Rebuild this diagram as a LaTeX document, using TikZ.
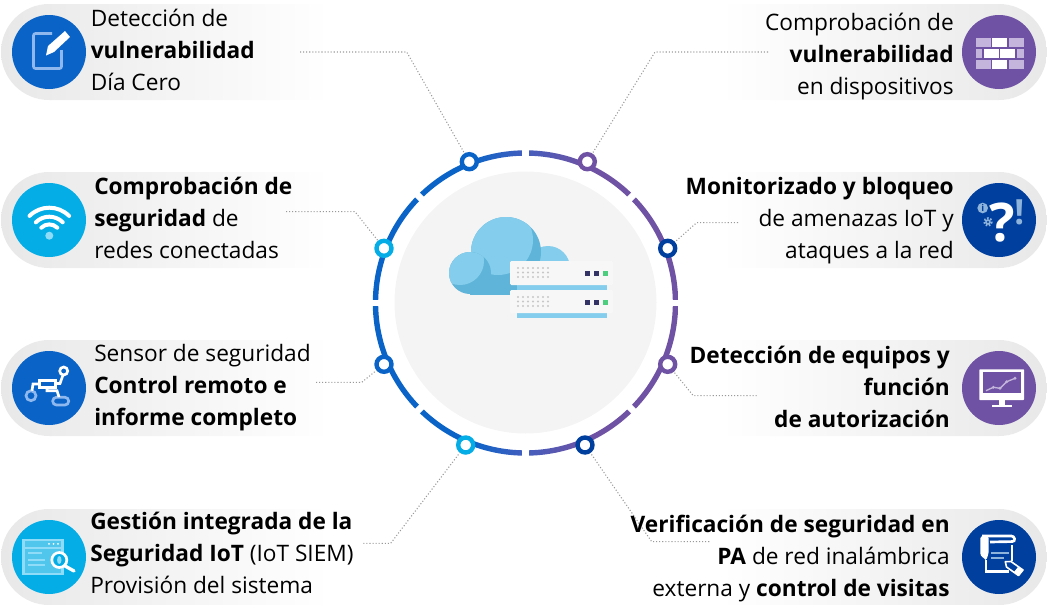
\documentclass[tikz,border=0pt]{standalone}
\usepackage{fontspec}
\setmainfont{Open Sans}
\definecolor{ringblue}{HTML}{0A64C8}
\definecolor{ringmid}{HTML}{445EBE}
\definecolor{ringpurple}{HTML}{6F52A3}
\definecolor{iconcyan}{HTML}{05ADE6}
\definecolor{iconnavy}{HTML}{003F9E}
\definecolor{pillgrey}{HTML}{E8E8E9}
\definecolor{pillmid}{HTML}{F6F6F7}
\definecolor{discgrey}{HTML}{F4F4F5}
\definecolor{cloudlight}{HTML}{85CDEC}
\definecolor{clouddark}{HTML}{5FB4D9}
\definecolor{lightblue}{HTML}{8FB8EE}
\definecolor{lightcyan}{HTML}{8EDCF8}
\definecolor{lightpurple}{HTML}{C4B5DC}
\definecolor{lightnavy}{HTML}{8FB4DC}
\pgfdeclarehorizontalshading{ringshade}{100bp}{color(0bp)=(ringblue); color(41bp)=(ringblue); color(50bp)=(ringmid); color(60bp)=(ringpurple); color(100bp)=(ringpurple)}
\tikzset{
  ringnode/.style={circle,fill=white,line width=3.3pt,minimum size=11.25pt,inner sep=0pt},
  iconbg/.style={circle,minimum size=55.5pt,inner sep=0pt},
  leader/.style={draw=black!40,line width=.8pt,dash pattern=on .8pt off 1.5pt},
  lefttext/.style={anchor=west,align=left,inner sep=0pt,text=black,font=\fontsize{17}{24}\selectfont},
  righttext/.style={anchor=east,align=right,inner sep=0pt,text=black,font=\fontsize{17}{24}\selectfont},
  lightline/.style={line width=2pt}
}
\begin{document}
\begin{tikzpicture}[x=.75pt,y=-.75pt]
\useasboundingbox (0,0) rectangle (1047,604);

\foreach \y in {52,220,388,557} {
  \shade[left color=pillgrey,middle color=pillmid,right color=white] (330,\y-48) -- (49,\y-48) arc[start angle=270,end angle=90,radius=48] -- (330,\y+48) -- cycle;
  \shade[left color=white,middle color=pillmid,right color=pillgrey] (720,\y-48) -- (999,\y-48) arc[start angle=-90,end angle=90,radius=48] -- (720,\y+48) -- cycle;
}

\fill[discgrey] (525.5,302.5) circle (131);
\shade[shading=ringshade,even odd rule] (525.5,303) circle (152.7) (525.5,303) circle (147.3);
\foreach \a in {0,45,...,315}
  \draw[white,line width=5pt] ([shift={(525.5,303)}]\a:145) -- ([shift={(525.5,303)}]\a:155);

\fill[cloudlight] (548,268) circle (22);
\fill[clouddark] (506,252) circle (35);
\begin{scope}
  \clip (506,252) circle (35);
  \fill[cloudlight] (498,240) circle (35);
\end{scope}
\fill[clouddark] (470,273) circle (21);
\fill[clouddark,rounded corners=0pt] (470,275) rectangle (520,295);
\begin{scope}
  \clip (470,273) circle (21);
  \fill[cloudlight] (460,261) circle (24);
\end{scope}
\fill[cloudlight] (517,283) rectangle (607,289.5);
\fill[cloudlight] (517,313) rectangle (607,318);
\fill[black!3!white,rounded corners=1pt] (510,261) rectangle (613,285);
\fill[black!3!white,rounded corners=1pt] (510,290) rectangle (613,313);
\foreach \y in {268,272.5,277,297,301.5,306} {
  \foreach \x in {518,523,...,548}
    \fill[black!22] (\x,\y) circle (1.2);
}
\foreach \y in {273,302} {
  \fill[black!75!blue!80] (584.5,\y-2.5) rectangle (589.5,\y+2.5);
  \fill[black!75!blue!80] (593.5,\y-2.5) rectangle (598.5,\y+2.5);
  \fill[green!45!teal!70] (602.5,\y-2.5) rectangle (607.5,\y+2.5);
}

\node[ringnode,draw=ringblue] (nodeA) at (469.3,161.7) {};
\node[ringnode,draw=ringpurple] (nodeB) at (587.3,161.7) {};
\node[ringnode,draw=iconcyan] (nodeC) at (384,248.3) {};
\node[ringnode,draw=iconnavy] (nodeD) at (667.7,248.3) {};
\node[ringnode,draw=ringblue] (nodeE) at (384,364.3) {};
\node[ringnode,draw=ringpurple] (nodeF) at (667.7,364.3) {};
\node[ringnode,draw=iconcyan] (nodeG) at (465.7,445) {};
\node[ringnode,draw=iconnavy] (nodeH) at (585,445) {};

\coordinate (startA) at (300,52);
\coordinate (bendA) at (406.7,52);
\coordinate (startB) at (768,52);
\coordinate (bendB) at (655,52);
\coordinate (startC) at (286,211.7);
\coordinate (bendC) at (355,211.7);
\coordinate (startD) at (738,222.7);
\coordinate (bendD) at (696.7,222.7);
\coordinate (startE) at (316,382.3);
\coordinate (bendE) at (361.7,382.3);
\coordinate (startF) at (756.7,395.7);
\coordinate (bendF) at (693.3,395.7);
\coordinate (startG) at (363.3,543.3);
\coordinate (bendG) at (390.7,543.3);
\coordinate (startH) at (709.3,541.7);
\coordinate (bendH) at (651.7,541.7);
\draw[leader] (startA) -- (bendA) -- (nodeA);
\draw[leader] (startB) -- (bendB) -- (nodeB);
\draw[leader] (startC) -- (bendC) -- (nodeC);
\draw[leader] (startD) -- (bendD) -- (nodeD);
\draw[leader] (startE) -- (bendE) -- (nodeE);
\draw[leader] (startF) -- (bendF) -- (nodeF);
\draw[leader] (startG) -- (bendG) -- (nodeG);
\draw[leader] (startH) -- (bendH) -- (nodeH);

\node[iconbg,fill=ringblue] (iconA) at (49,52) {};
\node[iconbg,fill=ringpurple] (iconB) at (999,52) {};
\node[iconbg,fill=iconcyan] (iconC) at (49,220) {};
\node[iconbg,fill=iconnavy] (iconD) at (999,220) {};
\node[iconbg,fill=ringblue] (iconE) at (49,388) {};
\node[iconbg,fill=ringpurple] (iconF) at (999,388) {};
\node[iconbg,fill=iconcyan] (iconG) at (49,557) {};
\node[iconbg,fill=iconnavy] (iconH) at (999,557) {};

\draw[lightblue,lightline,rounded corners=1.5pt] (52,33.5) -- (33.5,33.5) -- (33.5,68.5) -- (61.5,68.5) -- (61.5,50);
\fill[white] (46,55.5) -- (48,46) -- (65,31) -- (70,37) -- (54,52) -- cycle;

\foreach \r in {28,19,11.3}
  \draw[white,line width=3pt,line cap=round] ([shift={(49.3,235.7)}]225:\r) arc[start angle=225,end angle=315,radius=\r];
\fill[lightcyan] (49.3,235.7) circle (4);

\draw[lightblue,lightline] (31,395.7) circle (5);
\draw[lightblue,lightline,rounded corners=2.8pt] (52.7,397.3) rectangle (68.7,405);
\draw[white,lightline] (63.7,371) circle (4);
\draw[white,lightline] (39.3,380.7) rectangle (55.3,387.3);
\draw[white,lightline] (55.3,383.5) -- (60,383.5) -- (63,375);
\draw[white,lightline] (39.3,384) -- (33,384) -- (32,390.7);
\draw[white,lightline] (47,387.3) -- (47,390.7) -- (57,390.7) -- (59,397);

\draw[lightcyan,lightline,fill=iconcyan!70!white] (23.7,540) rectangle (62.7,574);
\draw[lightcyan,lightline] (23.7,548) -- (62.7,548);
\draw[lightcyan,line width=1pt] (28,553) -- (42,553) (28,560) -- (45,560) (28,565) -- (45,565);
\foreach \x in {49,53.5,58}
  \fill[white] (\x,543.8) circle (1);
\draw[white,line width=2pt,fill=iconcyan] (59.3,560) circle (7.5);
\fill[lightcyan] (59.3,560) ellipse (2.2 and 4);
\draw[white,line width=2.5pt,line cap=round] (65,566) -- (74,571);

\foreach \x/\w in {975.7/15,992.3/14.7,1008.7/15} {
  \fill[lightpurple] (\x,38.3) rectangle (\x+\w,47.3);
  \fill[lightpurple] (\x,60) rectangle (\x+\w,68.5);
}
\fill[white] (992.3,38.3) rectangle (1007,47.3);
\fill[white] (992.3,60) rectangle (1007,68.5);
\fill[lightpurple] (975.7,49.3) rectangle (982.3,58.3);
\fill[lightpurple] (1016.7,49.3) rectangle (1023.7,58.3);
\fill[white] (984.3,49.3) rectangle (998.7,58.3);
\fill[white] (1000.3,49.3) rectangle (1015,58.3);

\node[text=white,inner sep=0pt,font=\fontsize{40}{40}\selectfont\bfseries] (questionmark) at (1002,222.5) {?};
\node[text=lightnavy,inner sep=0pt,font=\fontsize{26}{26}\selectfont\bfseries] (bangmark) at (1019.3,212) {!};
\node[circle,fill=lightnavy,text=iconnavy,minimum size=8pt,inner sep=0pt,font=\fontsize{7}{7}\selectfont\bfseries] (infomark) at (982.7,208) {i};
\fill[lightnavy] (988,222) circle (2.8);
\draw[lightnavy,line width=1.6pt,dash pattern=on 1.2pt off 1.2pt] (988,222) circle (3.7);
\fill[iconnavy] (988,222) circle (1.2);

\fill[white,rounded corners=.5pt] (979.3,369.3) rectangle (1024,400);
\fill[ringpurple] (982.7,372.3) rectangle (1020.7,393.3);
\fill[white] (998.5,400) rectangle (1005,405);
\fill[white] (991.7,404.5) rectangle (1011.7,407.3);
\draw[lightpurple,line width=1pt] (986,390.7) -- (993.3,387.3) -- (1000,388.3) -- (1006.7,381.7) -- (1015,378.3);
\foreach \x/\y in {993.3/387.3,1000/388.3,1006.7/381.7,1015/378.3}
  \fill[lightpurple] (\x,\y) circle (1.6);

\fill[white,rounded corners=2pt] (980.3,536) -- (988.7,536) -- (988.7,553) -- (986,561) -- (984.5,558) -- (980.3,556) -- cycle;
\draw[white,lightline,rounded corners=2pt] (982,536) -- (1014,536) -- (1015,541.5) -- (990,542);
\draw[white,lightline] (986,560) -- (986,571.7) -- (1009,571.7);
\draw[white,lightline] (1012,545) -- (1012,561);
\draw[lightnavy,line width=1.3pt] (991.3,553.3) -- (1008.7,553.3);
\draw[lightnavy,line width=1.3pt] (991.3,558.3) -- (1003.7,558.3);
\draw[white,fill=iconnavy,line width=1.2pt,line join=round] (1005.3,561.7) -- (1011,561.5) -- (1023,570) -- (1018.5,575.5) -- (1006.5,567) -- cycle;
\fill[white] (1018,567) -- (1023,570) -- (1018.5,575.5) -- (1014,572) -- cycle;

\node[lefttext] (textA) at (90.5,50) {Detección de\\\textbf{vulnerabilidad}\\Día Cero};
\node[lefttext] (textC) at (94,218) {\textbf{Comprobación de}\\\textbf{seguridad} de\\redes conectadas};
\node[lefttext] (textE) at (94,388) {Sensor de seguridad\\\textbf{Control remoto e}\\\textbf{informe completo}};
\node[lefttext] (textG) at (90,553) {\textbf{Gestión integrada de la}\\\textbf{Seguridad IoT} (IoT SIEM)\\Provisión del sistema};
\node[righttext] (textB) at (954,57) {Comprobación de\\\textbf{vulnerabilidad}\\en dispositivos};
\node[righttext] (textD) at (954,221) {\textbf{Monitorizado y bloqueo}\\de amenazas IoT y\\ataques a la red};
\node[righttext] (textF) at (950,387) {\textbf{Detección de equipos y}\\\textbf{función}\\\textbf{de autorización}};
\node[righttext] (textH) at (950,559) {\textbf{Verificación de seguridad en}\\\textbf{PA} de red inalámbrica\\externa y \textbf{control de visitas}};
\end{tikzpicture}
\end{document}
